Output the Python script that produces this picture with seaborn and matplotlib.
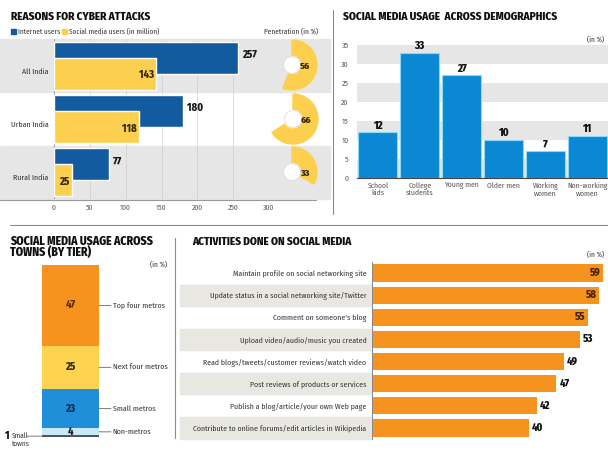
import matplotlib
matplotlib.use("Agg")
import matplotlib.pyplot as plt
import seaborn as sns
import pandas as pd
import numpy as np
from matplotlib.patches import Wedge, Circle, Rectangle
from matplotlib import font_manager as fm

sns.set_theme(style="white")
_avail = {f.name for f in fm.fontManager.ttflist}
_cands = ["Fira Sans Condensed", "Roboto Condensed", "PT Sans Narrow", "Archivo Narrow",
          "IBM Plex Sans Condensed", "Encode Sans Condensed", "Asap Condensed",
          "Liberation Sans Narrow", "Liberation Sans"]
FONT = next((c for c in _cands if c in _avail), "DejaVu Sans")
plt.rcParams['font.family'] = [FONT, 'DejaVu Sans']

# ---------------- data ----------------
regions = ["All India", "Urban India", "Rural India"]
internet_users = [257, 180, 77]
social_users = [143, 118, 25]
penetration = [56, 66, 33]
p1_ticks = [0, 50, 100, 150, 200, 250, 300]

demo_cats = ["School\nkids", "College\nstudents", "Young men", "Older men", "Working\nwomen", "Non-working\nwomen"]
demo_vals = [12, 33, 27, 10, 7, 11]
demo_ticks = [0, 5, 10, 15, 20, 25, 30, 35]

tier_names = ["Small towns", "Non-metros", "Small metros", "Next four metros", "Top four metros"]
tier_vals = [1, 4, 23, 25, 47]

activities = ["Maintain profile on social networking site",
              "Update status in a social networking site/Twitter",
              "Comment on someone's blog",
              "Upload video/audio/music you created",
              "Read blogs/tweets/customer reviews/watch video",
              "Post reviews of products or services",
              "Publish a blog/article/your own Web page",
              "Contribute to online forums/edit articles in Wikipedia"]
activity_vals = [59, 58, 55, 53, 49, 47, 42, 40]

# ---------------- colours ----------------
DBLUE = "#125b9e"
YEL = "#fcd04e"
BLUE2 = "#0b88d3"
ORANGE = "#f6921e"
BAND = "#e6e6e6"
BEIGE = "#e9e7e1"
TXT = "#333333"
HEAVY = 800

W, H = 608, 451
fig = plt.figure(figsize=(W / 100, H / 100), dpi=100)
fig.patch.set_facecolor("white")


def px_axes(x0, y0, x1, y1):
    return fig.add_axes([x0 / W, 1 - y1 / H, (x1 - x0) / W, (y1 - y0) / H])


bg = fig.add_axes([0, 0, 1, 1])
bg.set_xlim(0, W)
bg.set_ylim(H, 0)
bg.axis("off")

TITLE = dict(fontsize=8, fontweight=HEAVY, color="#111111", va="center", ha="left")
SMALL = dict(fontsize=5.2, color=TXT)

# ---------- separators ----------
bg.plot([10, 608], [225, 225], color="#8a8a8a", lw=0.8)
bg.plot([333, 333], [10, 214], color="#8a8a8a", lw=0.8)
bg.plot([175, 175], [238, 438], color="#8a8a8a", lw=0.8)

# ================= Panel 1 =================
bg.text(11, 17, "REASONS FOR CYBER ATTACKS", **TITLE)
bg.add_patch(Rectangle((11, 29), 5, 5, color=DBLUE))
bg.text(18, 31.5, "Internet users", va="center", **SMALL)
bg.add_patch(Rectangle((62, 29), 5, 5, color=YEL))
bg.text(69, 31.5, "Social media users (in million)", va="center", **SMALL)
bg.text(318, 31.5, "Penetration (in %)", va="center", ha="right", **SMALL)

row_top, row_h = 39, 53.3
for i in [0, 2]:
    bg.add_patch(Rectangle((0, row_top + i * row_h), 330, row_h, color=BAND, zorder=0))
bg.plot([0, 316], [199.5, 199.5], color="#999999", lw=0.8, zorder=1)

ax1 = px_axes(54, 39, 269, 199)
ax1.set_facecolor("none")
ypos = np.arange(len(regions))
ax1.set_xlim(0, 300)
ax1.set_ylim(len(regions) - 0.5, -0.5)
for xv in p1_ticks[1:]:
    ax1.axvline(xv, color="#cfcfcf", lw=0.5, zorder=0)
ax1.axvline(0, color="#999999", lw=0.6, zorder=0)
ax1.barh(ypos - 0.15, internet_users, height=0.6, color=DBLUE, zorder=2)
ax1.barh(ypos + 0.15, social_users, height=0.6, color=YEL, zorder=3)
for i in range(len(regions)):
    ax1.text(internet_users[i] + 5, i - 0.2, str(internet_users[i]), fontsize=7.6,
             fontweight=HEAVY, color="#1a1a1a", ha="left", va="center")
    ax1.text(social_users[i] - 3, i + 0.18, str(social_users[i]), fontsize=7.6,
             fontweight=HEAVY, color="#3a2a00", ha="right", va="center", zorder=4)
ax1.set_yticks(ypos + 0.1)
ax1.set_yticklabels(regions, fontsize=5.7, color=TXT)
ax1.set_xticks(p1_ticks)
ax1.set_xticklabels([str(t) for t in p1_ticks], fontsize=5.5, color="#555555")
ax1.tick_params(axis="both", length=0, pad=4)
for s in ax1.spines.values():
    s.set_visible(False)

centers = [(292, 65), (293, 119), (292, 172)]
R, RIN = 25, 10
for (cx, cy), p in zip(centers, penetration):
    bg.add_patch(Wedge((cx, cy), R, -90, -90 + 360 * p / 100, width=R - RIN,
                       color=YEL, zorder=3))
    bg.add_patch(Circle((cx, cy), 8.5, facecolor="white", edgecolor="#dddddd",
                        lw=0.6, zorder=4))
    bg.text(cx + 13, cy + 1, str(p), fontsize=7, fontweight=HEAVY,
            color="#3a2a00", ha="center", va="center", zorder=5)

# ================= Panel 2 =================
bg.text(343, 17, "SOCIAL MEDIA USAGE  ACROSS DEMOGRAPHICS", **TITLE)
bg.text(604, 40, "(in %)", ha="right", va="center", **SMALL)

ax2 = px_axes(357, 45, 608, 178)
ax2.set_facecolor("none")
for lo in [0, 10, 20, 30]:
    ax2.axhspan(lo, lo + 5, color=BAND, zorder=0, lw=0)
df2 = pd.DataFrame({"cat": demo_cats, "val": demo_vals})
sns.barplot(data=df2, x="cat", y="val", ax=ax2, color=BLUE2, saturation=1,
            width=0.93, edgecolor="#8fd8f5", linewidth=0.8, zorder=2)
ax2.set_ylim(0, 35)
ax2.set_xlim(-0.5, len(demo_cats) - 0.5)
ax2.set_yticks(demo_ticks)
ax2.set_yticklabels([str(t) for t in demo_ticks], fontsize=5.6, color="#555555")
ax2.set_xticklabels(demo_cats, fontsize=5.5, color="#555555", linespacing=0.95)
ax2.tick_params(axis="y", length=0, pad=6)
ax2.tick_params(axis="x", length=2, width=1.2, color="#222222", pad=3, direction="in")
ax2.set_xlabel("")
ax2.set_ylabel("")
for k in ["top", "right", "left"]:
    ax2.spines[k].set_visible(False)
ax2.spines["bottom"].set_color("#444444")
ax2.spines["bottom"].set_linewidth(0.8)
for i, v in enumerate(demo_vals):
    ax2.text(i, v + 0.4, str(v), fontsize=7.8, fontweight=HEAVY, color="#111111",
             ha="center", va="bottom")

# ================= Panel 3 =================
T3 = dict(TITLE, fontsize=8.4)
bg.text(10, 241, "SOCIAL MEDIA USAGE ACROSS", **T3)
bg.text(10, 253, "TOWNS (BY TIER)", **T3)
bg.text(158, 265, "(in %)", ha="center", va="center", **SMALL)

ax3 = px_axes(42, 265, 99, 437)
ax3.set_facecolor("none")
tier_colors = ["#555555", "#c8e9f8", "#1e8fd8", "#fdd34f", ORANGE]
bottoms = np.concatenate([[0], np.cumsum(tier_vals)[:-1]])
ax3.bar([0] * len(tier_vals), tier_vals, bottom=bottoms, width=1.0,
        color=tier_colors, linewidth=0)
ax3.set_xlim(-0.5, 0.5)
ax3.set_ylim(0, sum(tier_vals))
ax3.axis("off")
num_colors = ["#222222", "#222222", "#0d2f5a", "#3a2a00", "#5a3000"]
for i in range(1, len(tier_vals)):
    mid = bottoms[i] + tier_vals[i] / 2
    ax3.text(0, mid, str(tier_vals[i]), fontsize=7.6, fontweight=HEAVY,
             color=num_colors[i], ha="center", va="center")
    ax3.annotate("", xy=(0.5, mid), xytext=(0.71, mid),
                 arrowprops=dict(arrowstyle="-", color="#666666", lw=0.6,
                                 shrinkA=0, shrinkB=0), annotation_clip=False)
    ax3.text(0.74, mid, tier_names[i], fontsize=5.7, color=TXT, ha="left", va="center")
ax3.annotate("", xy=(-0.5, 0.5), xytext=(-0.76, 0.5),
             arrowprops=dict(arrowstyle="-", color="#666666", lw=0.6,
                             shrinkA=0, shrinkB=0), annotation_clip=False)
bg.text(5, 436, str(tier_vals[0]), fontsize=7.6, fontweight=HEAVY, color="#111111",
        ha="left", va="center")
bg.text(12, 436, "Small", va="center", ha="left", **SMALL)
bg.text(12, 444, "towns", va="center", ha="left", **SMALL)

# ================= Panel 4 =================
bg.text(192, 242, "ACTIVITIES DONE ON SOCIAL MEDIA", **TITLE)
bg.text(604, 255, "(in %)", ha="right", va="center", **SMALL)

top4, bot4 = 262, 439
rowh4 = (bot4 - top4) / len(activities)
for i in range(1, len(activities), 2):
    bg.add_patch(Rectangle((180, top4 + i * rowh4 + 0.5), 192, rowh4 - 1,
                           color=BEIGE, zorder=0))

ax4 = px_axes(372, top4, 608, bot4)
ax4.set_facecolor("none")
df4 = pd.DataFrame({"act": activities, "val": activity_vals})
sns.barplot(data=df4, x="val", y="act", orient="h", ax=ax4, color=ORANGE,
            saturation=1, width=0.78, linewidth=0)
ax4.set_xlim(0, 60.2)
ax4.set_ylim(len(activities) - 0.5, -0.5)
ax4.set_xticks([])
ax4.set_xlabel("")
ax4.set_ylabel("")
ax4.set_yticks(range(len(activities)))
ax4.set_yticklabels(activities, fontsize=5.6, color=TXT)
ax4.tick_params(axis="y", length=0, pad=4)
for k in ["top", "right", "bottom"]:
    ax4.spines[k].set_visible(False)
ax4.spines["left"].set_color("#888888")
ax4.spines["left"].set_linewidth(0.7)
for i, v in enumerate(activity_vals):
    if i < 3:
        ax4.text(v - 0.6, i, str(v), fontsize=7.6, fontweight=HEAVY, color="#4a2500",
                 ha="right", va="center")
    else:
        ax4.text(v + 0.8, i, str(v), fontsize=7.6, fontweight=HEAVY, color="#111111",
                 ha="left", va="center")

fig.savefig("out.png", dpi=100, facecolor="white")
